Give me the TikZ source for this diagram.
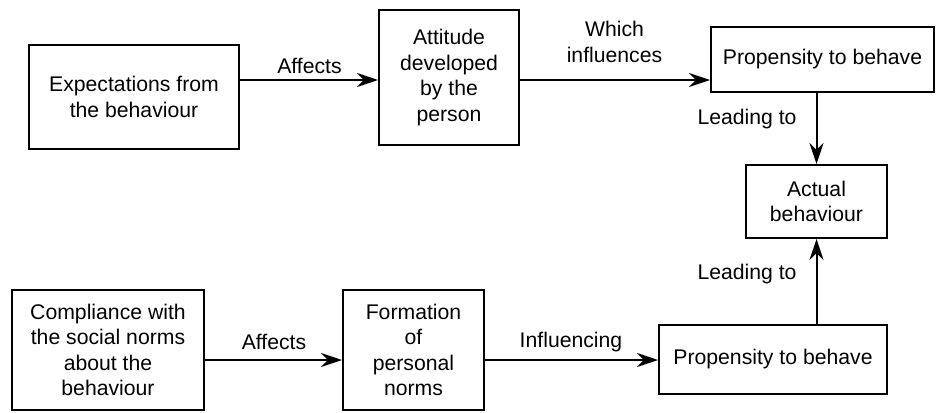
\documentclass[tikz,border=0pt]{standalone}
\usepackage{fontspec}
\setmainfont{Liberation Sans}
\usetikzlibrary{arrows.meta}
\begin{document}
\begin{tikzpicture}[x=1pt,y=-1pt,
  box/.style={draw, line width=2pt, align=center, inner sep=0pt,
    font=\fontsize{21.2}{25.5}\selectfont},
  lbl/.style={align=center, inner sep=0pt,
    font=\fontsize{21.2}{25.5}\selectfont},
  arr/.style={line width=2pt, -{Stealth[length=21pt,width=14pt,inset=7pt]}}]
\useasboundingbox (0,0) rectangle (936,412);

% upper chain
\node[box, minimum width=210pt, minimum height=104pt] (exp) at (134,97)
  {Expectations from\\the behaviour};
\node[box, minimum width=140pt, minimum height=135pt] (att) at (449,77.5)
  {Attitude\\developed\\by the\\person};
\node[box, minimum width=223pt, minimum height=65pt] (prop1) at (822.5,59.5)
  {Propensity to behave};

% outcome
\node[box, minimum width=141pt, minimum height=73pt] (act) at (816.5,201.5)
  {Actual\\behaviour};

% lower chain
\node[box, minimum width=192pt, minimum height=120pt] (comp) at (108,350)
  {Compliance with\\the social norms\\about the\\behaviour};
\node[box, minimum width=141pt, minimum height=120pt] (form) at (413.5,350)
  {Formation\\of\\personal\\norms};
\node[box, minimum width=228pt, minimum height=69pt] (prop2) at (773,359.5)
  {Propensity to behave};

% connector rows
\coordinate (rowA) at (0,80);
\coordinate (rowB) at (0,360);

\draw[arr] (exp.east |- rowA) -- (att.west |- rowA);
\draw[arr] (att.east |- rowA) -- (prop1.west |- rowA);
\draw[arr] (prop1.south -| act.north) -- (act.north);
\draw[arr] (prop2.north -| act.south) -- (act.south);
\draw[arr] (comp.east |- rowB) -- (form.west |- rowB);
\draw[arr] (form.east |- rowB) -- (prop2.west |- rowB);

% connector labels
\node[lbl] (l1) at (309.5,66) {Affects};
\node[lbl] (l2) at (614.5,42) {Which\\influences};
\node[lbl] (l3) at (747,119) {Leading to};
\node[lbl] (l4) at (747,274) {Leading to};
\node[lbl] (l5) at (274,342) {Affects};
\node[lbl] (l6) at (571,342) {Influencing};
\end{tikzpicture}
\end{document}
